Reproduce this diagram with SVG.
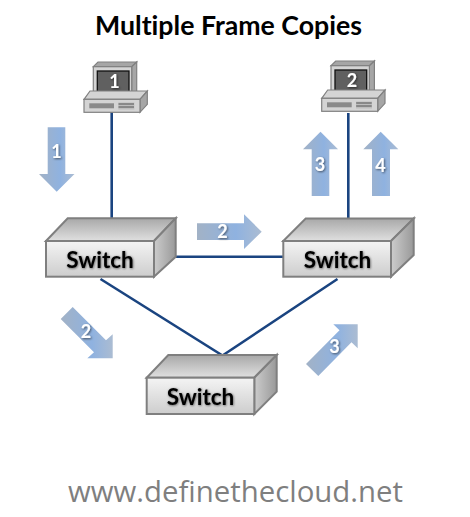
<svg xmlns="http://www.w3.org/2000/svg" width="470" height="517" viewBox="0 0 470 517">
<style>
text{font-family:Lato,"Liberation Sans",sans-serif;font-variant-ligatures:none}
.title{font-size:26.500px;font-weight:700;fill:#000}
.url{font-family:"Open Sans","Liberation Sans",sans-serif;font-size:28.500px;fill:#7f7f7f}
.sw{font-size:22.500px;font-weight:700;fill:#000;text-anchor:middle}
.n{font-size:18px;font-weight:700;fill:#fff;text-anchor:middle;filter:url(#ts)}
.link{stroke:#1a4480;stroke-width:2.600;fill:none;stroke-linecap:butt;stroke-linejoin:miter}
.front{fill:url(#gFront);stroke:#7f7f7f;stroke-width:2}
.top{fill:url(#gTop);stroke:#7f7f7f;stroke-width:2}
.side{fill:url(#gSide);stroke:#7f7f7f;stroke-width:2}
.arr{fill:url(#gArr)}
.p1{fill:#c0c0c0;stroke:#808080;stroke-width:1.200}
.p2{fill:#d4d4d4;stroke:#808080;stroke-width:1.200}
.p3{fill:#a6a6a6;stroke:#808080;stroke-width:1.200}
</style>
<defs>
<linearGradient id="gFront" x1="0" y1="0" x2="0" y2="1"><stop offset="0" stop-color="#f4f4f4"/><stop offset="1" stop-color="#cdcdcd"/></linearGradient>
<linearGradient id="gTop" x1="0" y1="0" x2="0" y2="1"><stop offset="0" stop-color="#a8a8a8"/><stop offset="1" stop-color="#e0e0e0"/></linearGradient>
<linearGradient id="gSide" x1="0" y1="0" x2="1" y2="0"><stop offset="0" stop-color="#cccccc"/><stop offset="1" stop-color="#999999"/></linearGradient>
<linearGradient id="gArr" x1="0" y1="0" x2="1" y2="0"><stop offset="0" stop-color="#a2b2c6"/><stop offset="0.6" stop-color="#8fb2e0"/><stop offset="1" stop-color="#abbcd2"/></linearGradient>
<filter id="ts" x="-40%" y="-30%" width="190%" height="170%"><feDropShadow dx="1" dy="1" stdDeviation="0.8" flood-color="#000" flood-opacity="0.55"/></filter>
<filter id="ts2" x="-10%" y="-20%" width="120%" height="140%"><feDropShadow dx="0.6" dy="0.6" stdDeviation="1" flood-color="#000" flood-opacity="0.6"/></filter>
<g id="pc">
<path class="p3" d="M93.300 66.700l4.700-4.700h38.700l-5 4.700z"/>
<path class="p3" d="M131.700 66.700l5-4.700v29l-5 5z"/>
<rect class="p2" x="93.300" y="66.700" width="38.400" height="29.300"/>
<rect x="97.300" y="71" width="31.700" height="20.700" fill="#606060" stroke="#111" stroke-width="1.300"/>
<path class="p2" d="M84 99.300l6-8.300h57.300l-7.300 8.300z"/>
<path class="p3" d="M140 99.300l7.300-8.300v13.300l-7.300 8z"/>
<rect class="p2" x="84" y="99.300" width="56" height="13"/>
<rect x="89.300" y="103.300" width="24.700" height="5" fill="#8a8a8a"/>
<rect x="118.300" y="102.500" width="16" height="7" fill="#bdbdbd"/>
<path d="M118.500 104h15.500M118.500 107h15.500" stroke="#555" stroke-width="1"/>
</g>
</defs>
<rect width="470" height="517" fill="#fff"/>
<text class="title" x="95" y="34.500" textLength="267" lengthAdjust="spacingAndGlyphs">Multiple Frame Copies</text>
<g id="connectors">
<path class="link" d="M111.700 112V219"/>
<path class="link" d="M348.300 113V219"/>
<path class="link" d="M175 256.700H283.500"/>
<path class="link" d="M100.500 279L222.500 355.500L337.500 279"/>
</g>
<g id="pc1"><use href="#pc"/><text class="n" x="114.500" y="88">1</text></g>
<g id="pc2"><use href="#pc" transform="translate(237.700 -1)"/><text class="n" x="352" y="87">2</text></g>
<g id="switch1">
<path class="top" d="M46 241L67.700 218.300H175.700L154 241z"/>
<path class="side" d="M154 241L175.700 218.300V256.700L154 276.700z"/>
<rect class="front" x="46" y="241" width="108" height="35.700"/>
<text class="sw" filter="url(#ts2)" x="100" y="267.500">Switch</text>
</g>
<g id="switch2">
<path class="top" d="M283.300 241L305.700 218.500H413.700L391 241z"/>
<path class="side" d="M391 241L413.700 218.500V255L391 276.700z"/>
<rect class="front" x="283.300" y="241" width="107.700" height="35.700"/>
<text class="sw" filter="url(#ts2)" x="337.500" y="267.500">Switch</text>
</g>
<g id="switch3">
<path class="top" d="M146.700 377.700L168.300 355H276.700L254.300 377.700z"/>
<path class="side" d="M254.300 377.700L276.700 355V391.700L254.300 414z"/>
<rect class="front" x="146.700" y="377.700" width="107.600" height="36.300"/>
<text class="sw" filter="url(#ts2)" x="200.500" y="404.500">Switch</text>
</g>
<g id="arrows">
<path class="arr" d="M47.700 127.300H65.300V174H74.500L56.700 191.700L39 174H47.700z"/>
<text class="n" x="56.500" y="157.500">1</text>
<path class="arr" d="M311.700 196H329.300V149.300H338L320.500 131.700L303 149.300H311.700z"/>
<text class="n" x="320" y="171">3</text>
<path class="arr" d="M372 196H390V149.300H398.300L380.700 131.700L363.300 149.300H372z"/>
<text class="n" x="380.500" y="172">4</text>
<path class="arr" d="M197 223.300H244V214.300L261.700 231.700L244 249V240H197z"/>
<text class="n" x="222.500" y="238">2</text>
<path class="arr" d="M72.700 307L106 340.300L112.700 334.300V358.300H87.300L94 352.300L60.700 319z"/>
<text class="n" x="86" y="338">2</text>
<path class="arr" d="M306 364L339.500 330.300L333.300 324.300H357.700V348.300L351.500 342.300L318.300 376z"/>
<text class="n" x="334.500" y="353">3</text>
</g>
<text class="url" x="68" y="501.700" textLength="335" lengthAdjust="spacingAndGlyphs">www.definethecloud.net</text>
</svg>
